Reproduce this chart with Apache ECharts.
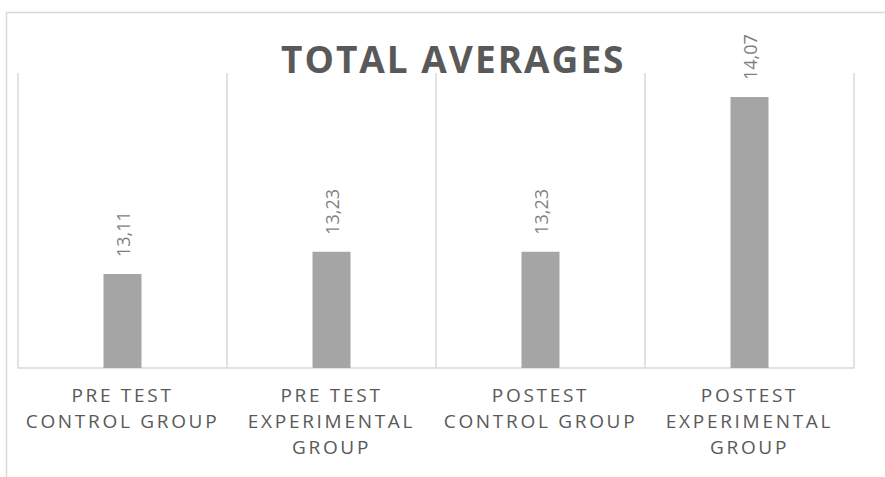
<!DOCTYPE html>
<html>
<head>
<meta charset="utf-8">
<script src="https://cdn.jsdelivr.net/npm/echarts@6/dist/echarts.min.js"></script>
<style>
    html, body { margin: 0; padding: 0; background: #fff; }
    #chart { width: 885px; height: 477px; }
    /* Excel-style spaced category labels and title */
    #chart text[style*="Inter"] { letter-spacing: 2.7px; }
    #chart text[style*="Lato"] { letter-spacing: 2px; }
</style>
</head>
<body>
<div id="chart"></div>
<script>
var categories = ["PRE TEST\nCONTROL GROUP", "PRE TEST\nEXPERIMENTAL\nGROUP", "POSTEST\nCONTROL GROUP", "POSTEST\nEXPERIMENTAL\nGROUP"];
var averages = [13.11, 13.23, 13.23, 14.07];
var axisMin = 12.6;
var axisMax = 14.2;

var chart = echarts.init(document.getElementById("chart"), null, { renderer: "svg" });
var option = {
    animation: false,
    title: {
        text: "TOTAL AVERAGES",
        left: 276,
        top: 35,
        textStyle: {
            fontFamily: "Open Sans, Lato",
            fontWeight: "bold",
            fontSize: 37,
            color: "#595959"
        }
    },
    // frame of the chart area (cut off at the right and bottom)
    graphic: [{
        type: "rect",
        shape: { x: 6.5, y: 12.5, width: 1000, height: 1000 },
        style: { fill: "none", stroke: "#d9d9d9", lineWidth: 1.5 },
        z: -1
    }],
    grid: { left: 18, right: 31, top: 73, bottom: 109 },
    xAxis: {
        type: "category",
        data: categories,
        axisTick: { show: false },
        axisLine: { lineStyle: { color: "#d9d9d9", width: 1.5 } },
        splitLine: { show: true, lineStyle: { color: "#d9d9d9", width: 1.5 } },
        axisLabel: {
            interval: 0,
            margin: 14,
            fontFamily: "Open Sans, Inter",
            fontSize: 19,
            lineHeight: 26,
            color: "#595959"
        }
    },
    yAxis: {
        type: "value",
        min: axisMin,
        max: axisMax,
        show: false,
        splitLine: { show: false }
    },
    series: [{
        type: "bar",
        data: averages,
        barWidth: 38,
        itemStyle: { color: "#a5a5a5" },
        label: {
            show: true,
            position: "top",
            rotate: 90,
            align: "left",
            verticalAlign: "middle",
            distance: 17,
            fontFamily: "Open Sans",
            fontSize: 18,
            color: "#7f7f7f",
            formatter: function (p) {
                return p.value.toFixed(2).replace(".", ",");
            }
        }
    }]
};
chart.setOption(option);
window.addEventListener("resize", function () {
    chart.resize();
});
</script>
</body>
</html>
